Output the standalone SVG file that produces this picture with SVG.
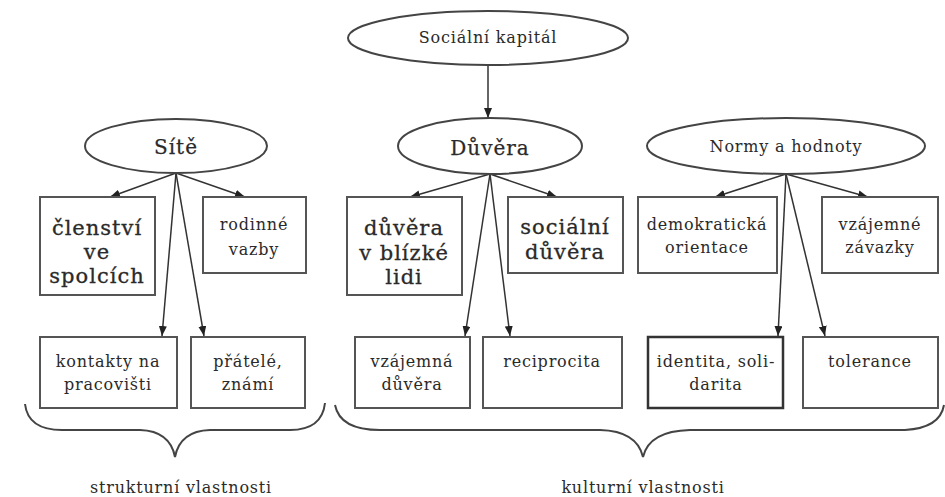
<svg xmlns="http://www.w3.org/2000/svg" width="945" height="497" viewBox="0 0 945 497">
<style>
text{font-family:"DejaVu Serif","Liberation Serif",serif;fill:#2a2a2a;text-anchor:middle}
.s{font-size:16px;letter-spacing:0.8px}
.l{font-size:20px;letter-spacing:1px;stroke:#2a2a2a;stroke-width:0.25}
.b{font-size:21px;letter-spacing:1px;stroke:#2a2a2a;stroke-width:0.3}
.box{fill:#fff;stroke:#555;stroke-width:2}
.ell{fill:#fff;stroke:#444;stroke-width:2}
.con{stroke:#333;stroke-width:1.5;fill:none;marker-end:url(#ah)}
.brace{stroke:#444;stroke-width:2;fill:none}
</style>
<defs>
<marker id="ah" markerUnits="userSpaceOnUse" markerWidth="10" markerHeight="8" refX="10" refY="4" orient="auto">
<path d="M0,0 L10,4 L0,8 z" fill="#222"/>
</marker>
</defs>
<rect width="945" height="497" fill="#fff"/>
<g id="connectors">
<line class="con" x1="488" y1="65" x2="488" y2="118"/>
<line class="con" x1="176" y1="173" x2="110" y2="197"/>
<line class="con" x1="176" y1="173" x2="245" y2="197"/>
<line class="con" x1="176" y1="173" x2="162" y2="336"/>
<line class="con" x1="176" y1="173" x2="204" y2="336"/>
<line class="con" x1="490" y1="174" x2="410" y2="197"/>
<line class="con" x1="490" y1="174" x2="557" y2="197"/>
<line class="con" x1="490" y1="174" x2="465" y2="336"/>
<line class="con" x1="490" y1="174" x2="510" y2="336"/>
<line class="con" x1="786" y1="174" x2="715" y2="197"/>
<line class="con" x1="786" y1="174" x2="868" y2="197"/>
<line class="con" x1="786" y1="174" x2="778" y2="336"/>
<line class="con" x1="786" y1="174" x2="825" y2="336"/>
</g>
<g id="socialni-kapital"><ellipse class="ell" cx="488" cy="38" rx="140" ry="27"/><text class="s" x="488" y="43">Sociální kapitál</text></g>
<g id="site"><ellipse class="ell" cx="176" cy="146" rx="91" ry="27"/><text class="l" x="176" y="154">Sítě</text></g>
<g id="duvera"><ellipse class="ell" cx="490" cy="146" rx="92" ry="28"/><text class="l" x="490" y="155">Důvěra</text></g>
<g id="normy"><ellipse class="ell" cx="786" cy="146" rx="139" ry="28"/><text class="s" x="786" y="152">Normy a hodnoty</text></g>

<g id="clenstvi"><rect class="box" x="40" y="197" width="115" height="98"/><text class="b" x="97" y="235">členství</text><text class="b" x="97" y="259">ve</text><text class="b" x="97" y="283">spolcích</text></g>
<g id="rodinne"><rect class="box" x="203" y="197" width="103" height="76"/><text class="s" x="254" y="230">rodinné</text><text class="s" x="254" y="255">vazby</text></g>
<g id="duvera-blizke"><rect class="box" x="347" y="197" width="115" height="98"/><text class="b" x="404" y="235">důvěra</text><text class="b" x="404" y="260">v blízké</text><text class="b" x="404" y="284">lidi</text></g>
<g id="socialni-duvera"><rect class="box" x="508" y="197" width="115" height="76"/><text class="b" x="565" y="234">sociální</text><text class="b" x="565" y="259">důvěra</text></g>
<g id="demokraticka"><rect class="box" x="638" y="197" width="139" height="76"/><text class="s" x="707" y="230">demokratická</text><text class="s" x="707" y="253">orientace</text></g>
<g id="vzajemne-zavazky"><rect class="box" x="822" y="197" width="116" height="76"/><text class="s" x="880" y="230">vzájemné</text><text class="s" x="880" y="253">závazky</text></g>

<g id="kontakty"><rect class="box" x="40" y="337" width="137" height="71"/><text class="s" x="108" y="367">kontakty na</text><text class="s" x="108" y="390">pracovišti</text></g>
<g id="pratele"><rect class="box" x="191" y="337" width="114" height="71"/><text class="s" x="248" y="367">přátelé,</text><text class="s" x="248" y="390">známí</text></g>
<g id="vzajemna-duvera"><rect class="box" x="355" y="337" width="115" height="71"/><text class="s" x="412" y="367">vzájemná</text><text class="s" x="412" y="390">důvěra</text></g>
<g id="reciprocita"><rect class="box" x="483" y="337" width="139" height="71"/><text class="s" x="552" y="367">reciprocita</text></g>
<g id="identita"><rect class="box" x="648" y="337" width="135" height="71" style="stroke:#333;stroke-width:2.5"/><text class="s" x="716" y="367">identita, soli-</text><text class="s" x="716" y="390">darita</text></g>
<g id="tolerance"><rect class="box" x="803" y="337" width="135" height="71"/><text class="s" x="870" y="367">tolerance</text></g>

<g id="brace-strukturni"><path class="brace" d="M25,404 Q28,430 62,430 L140,430 Q170,431 175,457 Q180,431 210,430 L290,430 Q322,430 325,403"/><text class="s" x="181" y="493">strukturní vlastnosti</text></g>
<g id="brace-kulturni"><path class="brace" d="M335,405 Q340,430 380,430 L600,430 Q637,431 643,457 Q649,431 690,430 L905,430 Q940,428 944,405"/><text class="s" x="643" y="493">kulturní vlastnosti</text></g>
</svg>
